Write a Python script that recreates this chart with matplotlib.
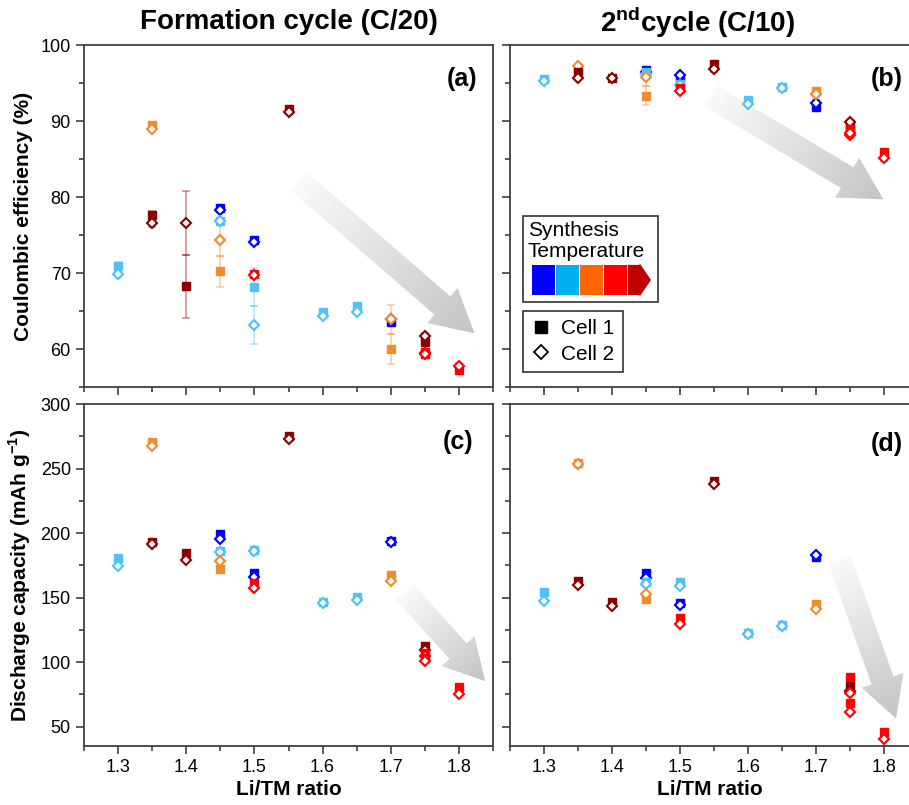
import numpy as np
import matplotlib
matplotlib.use("Agg")
import matplotlib.pyplot as plt
from matplotlib.patches import Polygon, Rectangle
from matplotlib.lines import Line2D
from matplotlib.transforms import IdentityTransform
from matplotlib.ticker import MultipleLocator

plt.rcParams["font.family"] = ["Liberation Sans", "DejaVu Sans"]
plt.rcParams["mathtext.fontset"] = "custom"
plt.rcParams["mathtext.rm"] = "Liberation Sans"
plt.rcParams["mathtext.bf"] = "Liberation Sans:bold"

# one entry per sample: Li/TM ratio and synthesis temperature rank (0 = lowest)
li_tm = [1.30, 1.35, 1.35, 1.40, 1.45, 1.45, 1.45, 1.50, 1.50, 1.50,
         1.55, 1.60, 1.65, 1.70, 1.70, 1.75, 1.75, 1.75, 1.80]
temp_rank = [1, 2, 4, 4, 0, 1, 2, 0, 1, 3, 4, 1, 1, 0, 2, 4, 3, 3, 3]

# coulombic efficiency (%), formation cycle C/20
ce_form_cell1 = [70.9, 89.5, 77.6, 68.25, 78.5, 76.9, 70.2, 74.4, 68.2, 69.9,
                 91.6, 64.9, 65.6, 63.6, 60.0, 60.9, 59.6, 59.4, 57.2]
ce_form_cell2 = [69.9, 88.9, 76.6, 76.6, 78.3, 76.8, 74.3, 74.1, 63.2, 69.75,
                 91.15, 64.35, 64.9, 64.0, 63.9, 61.7, 59.5, 59.3, 57.8]
# coulombic efficiency (%), 2nd cycle C/10
ce_2nd_cell1 = [95.5, 97.0, 96.4, 95.7, 96.7, 96.4, 93.3, 95.6, 94.9, 94.4,
                97.5, 92.8, 94.5, 91.8, 93.9, 89.6, 89.0, 88.8, 85.9]
ce_2nd_cell2 = [95.3, 97.3, 95.7, 95.7, 96.4, 96.2, 95.8, 96.0, 94.8, 94.0,
                96.8, 92.3, 94.3, 92.4, 93.5, 89.9, 88.2, 88.4, 85.1]
# discharge capacity (mAh/g), formation cycle
cap_form_cell1 = [181.0, 270.9, 192.8, 184.8, 199.0, 186.0, 172.4, 168.8, 186.5, 161.1,
                  275.4, 146.5, 150.2, 193.8, 167.5, 112.5, 107.0, 103.0, 81.0]
cap_form_cell2 = [174.8, 267.4, 191.3, 179.1, 195.6, 185.6, 178.3, 166.0, 186.0, 157.7,
                  272.9, 145.8, 148.1, 192.8, 162.9, 109.4, 104.8, 100.9, 75.1]
# discharge capacity (mAh/g), 2nd cycle
cap_2nd_cell1 = [154.6, 254.5, 163.1, 146.8, 169.3, 162.0, 148.7, 145.6, 162.3, 134.0,
                 240.5, 122.6, 128.8, 181.2, 145.0, 81.5, 88.8, 68.1, 46.1]
cap_2nd_cell2 = [147.6, 253.8, 159.8, 143.5, 164.9, 160.5, 152.6, 144.0, 159.0, 129.3,
                 237.7, 122.0, 128.3, 183.0, 141.4, 77.9, 76.1, 61.2, 40.5]

MARKER_COLORS = ["#0000FF", "#4FC0F8", "#F28A30", "#FF0000", "#8B0000"]
BAR_COLORS = ["#0000FF", "#00B0F0", "#FF6600", "#FF0000", "#C00000"]
SPINE = "#404040"


def gradient_arrow(ax, tail, tip, shaft=24, head_w=46, head_len=42, g0=0.98, g1=0.77, n=90):
    p0 = ax.transData.transform(tail)
    p1 = ax.transData.transform(tip)
    d = p1 - p0
    length = np.hypot(*d)
    u = d / length
    nv = np.array([-u[1], u[0]])
    b = p0 + u * (length - head_len)
    pts = [p0 + nv * shaft / 2, b + nv * shaft / 2, b + nv * head_w / 2, p1,
           b - nv * head_w / 2, b - nv * shaft / 2, p0 - nv * shaft / 2]
    outline = Polygon(pts, closed=True, transform=IdentityTransform(),
                      facecolor="none", edgecolor="none")
    ax.add_patch(outline)
    for i in range(n):
        t0 = i / n
        t1 = min((i + 1.6) / n, 1.0)
        g = g0 + (g1 - g0) * i / (n - 1)
        quad = [p0 + u * length * t0 + nv * head_w, p0 + u * length * t1 + nv * head_w,
                p0 + u * length * t1 - nv * head_w, p0 + u * length * t0 - nv * head_w]
        strip = Polygon(quad, closed=True, transform=IdentityTransform(),
                        facecolor=(g, g, g), edgecolor="none", zorder=1)
        ax.add_patch(strip)
        strip.set_clip_path(outline)


def draw_panel(ax, cell1, cell2, with_err):
    for x, r, v1, v2 in zip(li_tm, temp_rank, cell1, cell2):
        c = MARKER_COLORS[r]
        if with_err:
            err = abs(v1 - v2) / 2
            ax.errorbar([x, x], [v1, v2], yerr=[err, err], fmt="none", ecolor=c,
                        alpha=0.45, elinewidth=1.1, capsize=2.8, capthick=1.1, zorder=2)
        ax.plot(x, v1, ls="none", marker="s", ms=5.6, color=c, mec=c, zorder=3)
        ax.plot(x, v2, ls="none", marker="D", ms=4.6, mfc="white", mec=c, mew=1.5, zorder=3)


def style_axes(ax, ylim, ymaj, ymin, xlabels, ylabels):
    ax.set_xlim(1.25, 1.85)
    ax.set_ylim(*ylim)
    ax.xaxis.set_major_locator(MultipleLocator(0.1))
    ax.xaxis.set_minor_locator(MultipleLocator(0.05))
    ax.yaxis.set_major_locator(MultipleLocator(ymaj))
    ax.yaxis.set_minor_locator(MultipleLocator(ymin))
    ax.tick_params(which="both", direction="out", color=SPINE, width=1.2,
                   top=False, right=False, labelsize=13,
                   labelbottom=xlabels, labelleft=ylabels)
    ax.tick_params(which="major", length=6)
    ax.tick_params(which="minor", length=3.5)
    for s in ax.spines.values():
        s.set_color(SPINE)
        s.set_linewidth(1.3)


fig = plt.figure(figsize=(9.09, 8.05), dpi=100)
W, H = 909, 805


def add_axes(left, top, width, height):
    return fig.add_axes([left / W, (H - top - height) / H, width / W, height / H])


ax_a = add_axes(84, 45, 409, 342)
ax_b = add_axes(510, 45, 408, 342)
ax_c = add_axes(84, 404, 409, 342)
ax_d = add_axes(510, 404, 408, 342)

style_axes(ax_a, (55, 100), 10, 5, False, True)
style_axes(ax_b, (55, 100), 10, 5, False, False)
style_axes(ax_c, (35, 300), 50, 25, True, True)
style_axes(ax_d, (35, 300), 50, 25, True, False)

for ax in (ax_a, ax_b, ax_c, ax_d):
    ax.set_xticks([1.3, 1.4, 1.5, 1.6, 1.7, 1.8])
    ax.set_xticklabels(["1.3", "1.4", "1.5", "1.6", "1.7", "1.8"])

gradient_arrow(ax_a, (1.5647, 82.1), (1.8225, 62.1))
gradient_arrow(ax_b, (1.5451, 93.3), (1.7990, 79.7))
gradient_arrow(ax_c, (1.7201, 154.6), (1.8382, 85.4), shaft=23, head_w=44, head_len=40)
gradient_arrow(ax_d, (1.7343, 179.9), (1.8176, 56.5), shaft=23, head_w=44, head_len=40)

draw_panel(ax_a, ce_form_cell1, ce_form_cell2, True)
draw_panel(ax_b, ce_2nd_cell1, ce_2nd_cell2, True)
draw_panel(ax_c, cap_form_cell1, cap_form_cell2, False)
draw_panel(ax_d, cap_2nd_cell1, cap_2nd_cell2, False)

# panel letters
for ax, lab, pos in ((ax_a, "(a)", (0.962, 0.935)), (ax_b, "(b)", (0.962, 0.935)),
                     (ax_c, "(c)", (0.953, 0.925)), (ax_d, "(d)", (0.962, 0.917))):
    ax.text(pos[0], pos[1], lab, transform=ax.transAxes, ha="right", va="top",
            fontsize=18, fontweight="bold")

# axis labels
ax_a.set_ylabel("Coulombic efficiency (%)", fontsize=15, fontweight="bold")
ax_c.set_ylabel(r"Discharge capacity (mAh g$^{\mathbf{-1}}$)", fontsize=15, fontweight="bold")
ax_a.yaxis.set_label_coords(-0.125, 0.5)
ax_c.yaxis.set_label_coords(-0.125, 0.5)
for ax in (ax_c, ax_d):
    ax.set_xlabel("Li/TM ratio", fontsize=15, fontweight="bold")
    ax.xaxis.set_label_coords(0.5 if ax is ax_c else 0.49, -0.1)

fig.text(288.5 / W, 1 - 22 / H, "Formation cycle (C/20)", ha="center", va="center",
         fontsize=20, fontweight="bold")
fig.text(698 / W, 1 - 22 / H, r"2$^{\mathbf{nd}}$cycle (C/10)", ha="center", va="center",
         fontsize=20, fontweight="bold")

# synthesis temperature key in panel (b)
ax_b.add_patch(Rectangle((0.032, 0.249), 0.331, 0.251, transform=ax_b.transAxes,
                         facecolor="white", edgecolor="#333333", lw=1.2, zorder=5))
ax_b.text(0.044, 0.459, "Synthesis", transform=ax_b.transAxes, ha="left", va="center",
          fontsize=15, zorder=6)
ax_b.text(0.044, 0.395, "Temperature", transform=ax_b.transAxes, ha="left", va="center",
          fontsize=15, zorder=6)
seg_w = 0.0589
x0, y0, y1 = 0.053, 0.269, 0.357
for i, c in enumerate(BAR_COLORS):
    xs = x0 + i * seg_w
    if i < len(BAR_COLORS) - 1:
        ax_b.add_patch(Rectangle((xs, y0), seg_w - 0.002, y1 - y0, transform=ax_b.transAxes,
                                 facecolor=c, edgecolor="none", zorder=6))
    else:
        xm = xs + 0.029
        xt = xs + 0.057
        ax_b.add_patch(Polygon([(xs, y0), (xm, y0), (xm, y0 - 0.005), (xt, (y0 + y1) / 2),
                                (xm, y1 + 0.005), (xm, y1), (xs, y1)], closed=True,
                               transform=ax_b.transAxes, facecolor=c, edgecolor="none", zorder=6))

handles = [Line2D([], [], ls="none", marker="s", ms=8, color="black"),
           Line2D([], [], ls="none", marker="D", ms=7, mfc="white", mec="black", mew=1.3)]
leg = ax_b.legend(handles, ["Cell 1", "Cell 2"], loc="lower left", bbox_to_anchor=(0.033, 0.044),
                  fontsize=15, frameon=True, fancybox=False, edgecolor="#333333",
                  framealpha=1, handlelength=0.9, handletextpad=0.5, borderpad=0.4,
                  labelspacing=0.3, borderaxespad=0)
leg.get_frame().set_linewidth(1.2)

fig.savefig("out.png", dpi=100)
